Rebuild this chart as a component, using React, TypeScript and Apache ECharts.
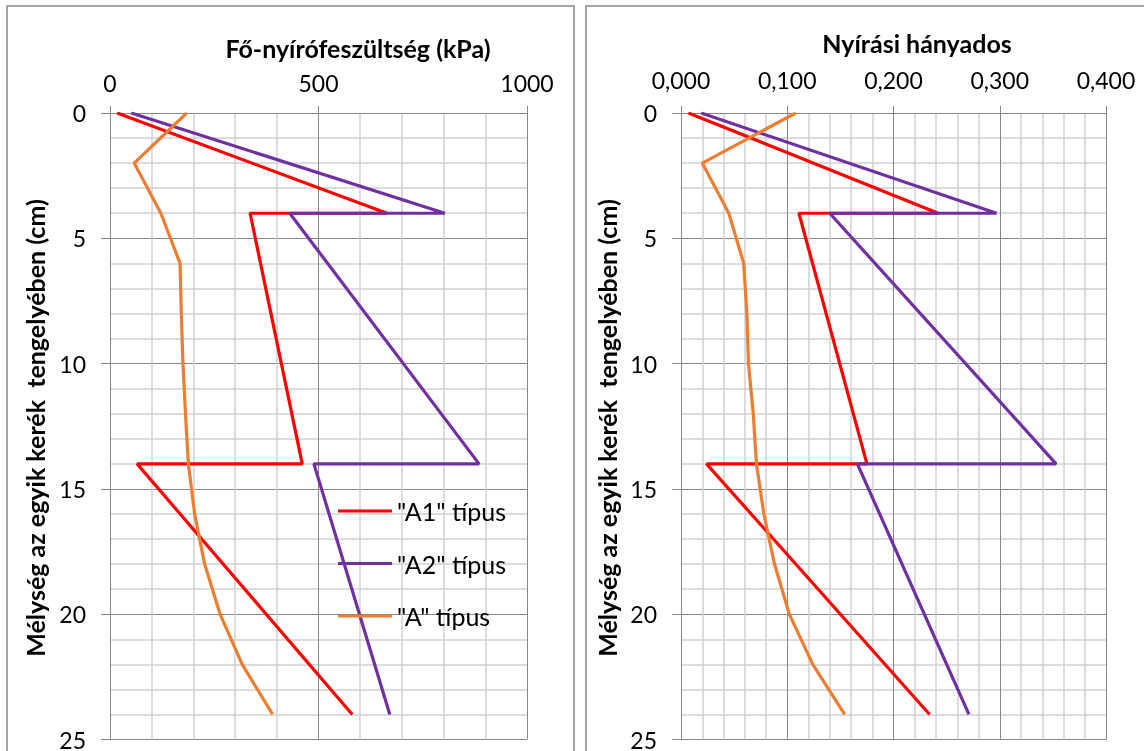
import React, { useEffect, useRef } from "react";
import * as echarts from "echarts";

// ---- data ----
const seriesNames = ['"A1" típus', '"A2" típus', '"A" típus'];
const seriesColors = ["#FF0000", "#7030A0", "#ED7D31"];

// depths (cm) for the A1 / A2 profiles (jumps at 4 and 14 cm)
const depthsA1A2 = [0, 4, 4, 14, 14, 24];
// depths (cm) for the A profile
const depthsA = [0, 2, 4, 6, 8, 10, 12, 14, 16, 18, 20, 22, 24];

// Left panel: principal shear stress (kPa)
const stressA1 = [17, 664, 336, 461, 65, 581];
const stressA2 = [51, 803, 431, 885, 489, 671];
const stressA = [184, 58, 122, 168, 171, 175, 181, 188, 203, 227, 264, 317, 390];

// Right panel: shear ratio
const ratioA1 = [0.007, 0.242, 0.111, 0.175, 0.024, 0.234];
const ratioA2 = [0.019, 0.297, 0.140, 0.353, 0.166, 0.271];
const ratioA = [0.108, 0.02, 0.045, 0.059, 0.062, 0.0635, 0.068, 0.071, 0.078, 0.088, 0.102, 0.124, 0.154];

// axis ticks
const leftXTicks = { min: 0, max: 1000, interval: 500 };
const rightXTicks = { min: 0, max: 0.4, interval: 0.1 };
const depthTicks = { min: 0, max: 25, interval: 5 };

const leftTitle = "Fő-nyírófeszültség (kPa)";
const rightTitle = "Nyírási hányados";
const yTitle = "Mélység az egyik kerék  tengelyében (cm)";

const FONT = "Lato, 'Open Sans', sans-serif";
const MAJOR = "#868686";
const MINOR = "#d0d0d0";

function pairs(xs: number[], ys: number[]) {
  return xs.map((x, i) => [x, ys[i]]);
}

export default function App() {
  const ref = useRef<HTMLDivElement>(null);
  useEffect(() => {
    document.body.style.margin = "0";
    const chart = echarts.init(ref.current!, null, { renderer: "svg" });

    const grids = [
      { left: 110, top: 113, width: 417, height: 629 },
      { left: 681, top: 113, width: 425, height: 629 },
    ];

    const xAxisBase = (idx: number, t: any, labelMargin: number, fmt: (v: number) => string) => ({
      type: "value",
      gridIndex: idx,
      position: "top",
      min: t.min,
      max: t.max,
      interval: t.interval,
      axisLine: { show: true, lineStyle: { color: MAJOR, width: 1 } },
      axisTick: { show: true, inside: false, length: 7, lineStyle: { color: MAJOR } },
      axisLabel: { color: "#000", fontSize: 23, fontFamily: FONT, margin: labelMargin, formatter: fmt },
      splitLine: { show: true, lineStyle: { color: MAJOR, width: 1 } },
      minorTick: { show: false, splitNumber: 5 },
      minorSplitLine: { show: true, lineStyle: { color: MINOR, width: 1.5 } },
    });

    const yAxisBase = (idx: number) => ({
      type: "value",
      gridIndex: idx,
      inverse: true,
      min: depthTicks.min,
      max: depthTicks.max,
      interval: depthTicks.interval,
      axisLine: { show: true, lineStyle: { color: MAJOR, width: 1 } },
      axisTick: { show: true, inside: false, length: 9, lineStyle: { color: MAJOR } },
      axisLabel: { color: "#000", fontSize: 23, fontFamily: FONT, margin: 24 },
      splitLine: { show: true, lineStyle: { color: MAJOR, width: 1 } },
      minorTick: { show: false, splitNumber: 5 },
      minorSplitLine: { show: true, lineStyle: { color: MINOR, width: 1.5 } },
    });

    const mk = (name: string, color: string, idx: number, xs: number[], ys: number[]) => ({
      type: "line",
      name,
      xAxisIndex: idx,
      yAxisIndex: idx,
      data: pairs(xs, ys),
      showSymbol: false,
      symbol: "none",
      lineStyle: { color, width: 3.2 },
      itemStyle: { color },
      emphasis: { disabled: true },
    });

    const textEl = (text: string, x: number, y: number, rotation = 0) => ({
      type: "text",
      x,
      y,
      rotation,
      style: {
        text,
        fill: "#000",
        font: `bold 25px ${FONT}`,
        align: "center",
        verticalAlign: "middle",
      },
    });

    chart.setOption({
      animation: false,
      grid: grids,
      xAxis: [
        xAxisBase(0, leftXTicks, 19, (v: number) => String(v)),
        xAxisBase(1, rightXTicks, 22, (v: number) => v.toFixed(3).replace(".", ",")),
      ],
      yAxis: [yAxisBase(0), yAxisBase(1)],
      legend: {
        data: seriesNames,
        orient: "vertical",
        left: 338,
        top: 498,
        padding: 0,
        icon: "rect",
        itemWidth: 54,
        itemHeight: 3,
        itemGap: 26.5,
        selectedMode: false,
        textStyle: { color: "#000", fontSize: 25, fontFamily: FONT, lineHeight: 26 },
      },
      series: [
        mk(seriesNames[0], seriesColors[0], 0, stressA1, depthsA1A2),
        mk(seriesNames[1], seriesColors[1], 0, stressA2, depthsA1A2),
        mk(seriesNames[2], seriesColors[2], 0, stressA, depthsA),
        mk(seriesNames[0], seriesColors[0], 1, ratioA1, depthsA1A2),
        mk(seriesNames[1], seriesColors[1], 1, ratioA2, depthsA1A2),
        mk(seriesNames[2], seriesColors[2], 1, ratioA, depthsA),
      ],
      graphic: [
        {
          type: "rect",
          shape: { x: 7, y: 6, width: 567, height: 800 },
          style: { fill: "none", stroke: "#a6a6a6", lineWidth: 2 },
          silent: true,
        },
        {
          type: "rect",
          shape: { x: 586, y: 6, width: 620, height: 800 },
          style: { fill: "none", stroke: "#a6a6a6", lineWidth: 2 },
          silent: true,
        },
        textEl(leftTitle, 358, 48),
        textEl(rightTitle, 917, 43),
        textEl(yTitle, 35, 428, Math.PI / 2),
        textEl(yTitle, 607, 428, Math.PI / 2),
      ],
    });
    return () => chart.dispose();
  }, []);
  return <div ref={ref} style={{ position: "fixed", left: 0, top: 0, width: 1144, height: 751 }} />;
}
